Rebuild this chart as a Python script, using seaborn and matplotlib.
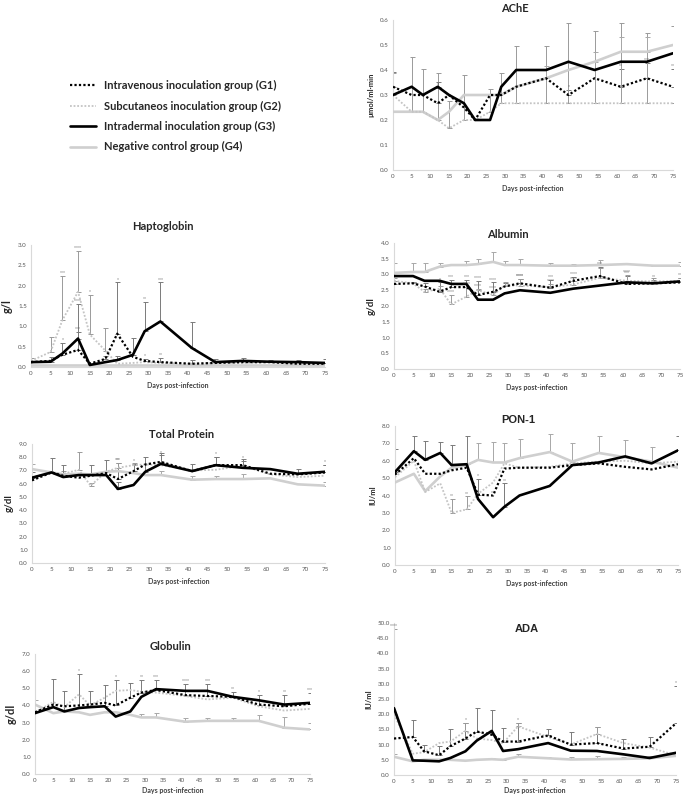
import numpy as np
import pandas as pd
import matplotlib
matplotlib.use("Agg")
import matplotlib.pyplot as plt
from matplotlib.lines import Line2D
import seaborn as sns

sns.set_style("white")
plt.rcParams["font.family"] = ["Lato", "DejaVu Sans"]

days = [0, 5, 8, 12, 15, 19, 22, 26, 29, 33, 41, 47, 54, 61, 68, 75]
groups = ["G1", "G2", "G3", "G4"]
group_labels = ["Intravenous inoculation group (G1)",
                "Subcutaneos inoculation group (G2)",
                "Intradermal inoculation group (G3)",
                "Negative control group (G4)"]

# ---- AChE (umol/ml-min)
ache_g1 = [0.333, 0.30, 0.30, 0.267, 0.30, 0.25, 0.20, 0.30, 0.30, 0.333, 0.367, 0.30, 0.367, 0.333, 0.367, 0.333]
ache_g2 = [0.30, 0.233, 0.233, 0.20, 0.167, 0.20, 0.20, 0.233, 0.267, 0.267, 0.267, 0.267, 0.267, 0.267, 0.267, 0.267]
ache_g3 = [0.30, 0.333, 0.30, 0.333, 0.30, 0.267, 0.20, 0.20, 0.333, 0.40, 0.40, 0.433, 0.40, 0.433, 0.433, 0.467]
ache_g4 = [0.233, 0.233, 0.233, 0.20, 0.233, 0.30, 0.30, 0.30, 0.30, 0.333, 0.367, 0.40, 0.433, 0.473, 0.473, 0.50]
ache_e1 = [0.06, 0, 0, 0.06, 0, 0, 0, 0, 0, 0, 0, 0.02, 0, 0.07, 0.06, 0.07]
ache_e2 = [0.09, 0.22, 0.17, 0.19, 0.11, 0.18, 0, 0.09, 0.12, 0.23, 0.23, 0.32, 0.29, 0.32, 0.28, 0.31]
ache_e3 = [0, 0, 0, 0.02, 0, 0, 0, 0, 0, 0, 0, 0, 0, 0, 0, 0]
ache_e4 = [0, 0, 0, 0, 0, 0, 0, 0, 0, 0, 0.05, 0, 0.04, 0.06, 0.06, 0]
ache_s1 = {3: "*", 11: "*", 13: "**", 14: "***", 15: "**"}

# ---- Haptoglobin (g/l)
hp_g1 = [0.12, 0.15, 0.30, 0.42, 0.08, 0.20, 0.82, 0.25, 0.15, 0.12, 0.08, 0.10, 0.12, 0.12, 0.08, 0.08]
hp_g2 = [0.15, 0.37, 1.15, 1.85, 0.80, 0.40, 0.08, 0.10, 0.12, 0.10, 0.08, 0.10, 0.10, 0.12, 0.10, 0.10]
hp_g3 = [0.12, 0.13, 0.33, 0.70, 0.05, 0.12, 0.17, 0.30, 0.88, 1.12, 0.47, 0.12, 0.15, 0.13, 0.12, 0.10]
hp_g4 = [0.05] * 16
hp_e1 = [0.10, 0, 0.30, 0.45, 0, 0.07, 1.26, 0, 0.05, 0.10, 0.10, 0, 0, 0, 0, 0]
hp_e2 = [0.08, 0.38, 1.10, 1.00, 0.98, 0.55, 0, 0, 0, 0, 0, 0, 0, 0, 0, 0]
hp_e3 = [0, 0.12, 0, 0.85, 0, 0, 0.10, 0.42, 0.72, 0.96, 0.63, 0.08, 0.07, 0.05, 0.06, 0.10]
hp_e4 = [0] * 16
hp_s1 = {2: "*", 3: "***", 6: "*", 8: "*", 9: "**"}
hp_s2 = {2: "***", 3: "****", 4: "*"}
hp_s3 = {3: "****", 8: "**", 9: "***"}

# ---- Albumin (g/dl)
alb_g1 = [2.70, 2.72, 2.62, 2.45, 2.60, 2.60, 2.35, 2.45, 2.62, 2.72, 2.58, 2.80, 2.95, 2.70, 2.72, 2.75]
alb_g2 = [2.80, 2.72, 2.45, 2.55, 2.05, 2.30, 2.50, 2.35, 2.65, 2.65, 2.60, 2.68, 2.90, 2.80, 2.78, 2.80]
alb_g3 = [2.95, 2.95, 2.80, 2.80, 2.70, 2.70, 2.20, 2.20, 2.40, 2.50, 2.42, 2.55, 2.65, 2.75, 2.72, 2.78]
alb_g4 = [3.05, 3.08, 3.08, 3.25, 3.30, 3.30, 3.33, 3.40, 3.30, 3.30, 3.28, 3.28, 3.30, 3.33, 3.28, 3.28]
alb_e1 = [0.10, 0.05, 0.10, 0.30, 0.22, 0.22, 0.45, 0.30, 0.10, 0.15, 0.25, 0.12, 0.30, 0.25, 0.10, 0.15]
alb_e2 = [0.10, 0.05, 0.10, 0.10, 0.30, 0.30, 0.05, 0.12, 0.10, 0.20, 0.10, 0.10, 0.30, 0.20, 0.10, 0.10]
alb_e3 = [0] * 16
alb_e4 = [0.33, 0.27, 0.27, 0.13, 0.03, 0.12, 0.17, 0.32, 0.12, 0.20, 0.10, 0.05, 0.15, 0.05, 0.02, 0.12]
alb_s1 = {3: "*", 4: "***", 5: "***", 6: "****", 7: "****", 9: "****", 10: "***",
          11: "****", 12: "***", 13: "***", 14: "**", 15: "**"}
alb_s2 = {4: "****", 5: "****", 6: "****", 7: "****", 9: "****", 10: "****", 11: "****", 13: "****"}

# ---- Total protein (g/dl)
tp_g1 = [6.25, 6.85, 6.60, 6.45, 6.60, 6.80, 6.35, 6.95, 7.45, 7.65, 6.95, 7.40, 7.40, 6.75, 6.70, 6.85]
tp_g2 = [6.50, 6.80, 6.75, 7.05, 5.85, 6.90, 7.20, 7.40, 7.45, 7.40, 7.00, 7.05, 7.35, 6.70, 6.50, 6.60]
tp_g3 = [6.45, 6.85, 6.50, 6.65, 6.65, 6.65, 5.60, 5.90, 6.90, 7.50, 6.95, 7.40, 7.20, 7.10, 6.75, 6.90]
tp_g4 = [7.10, 6.85, 6.70, 6.75, 6.70, 6.90, 6.95, 6.80, 6.65, 6.65, 6.30, 6.35, 6.35, 6.40, 5.95, 5.85]
tp_e1 = [0, 0, 0, 0, 0, 0, 1.20, 0.55, 0, 0.50, 0, 0.60, 0.35, 0, 0, 0.55]
tp_e2 = [0, 0, 0.20, 1.35, 0.20, 0, 0.40, 0.20, 0, 0, 0, 0, 0, 0, 0, 0]
tp_e3 = [0.45, 1.10, 0.90, 0, 0.75, 1.15, 0.50, 0, 1.15, 0.80, 0.55, 0.60, 0.65, 0, 0.35, 0.50]
tp_e4 = [0.35, 0, 0, 0, 0, 0, 0, 0, 0, 0.30, 0.25, 0.25, 0.35, 0, 0, 0.30]
tp_s1 = {6: "***", 7: "*", 9: "*", 11: "*", 12: "*", 15: "*"}
tp_s2 = {6: "**"}

# ---- PON-1 (IU/ml)
pon_g1 = [5.20, 6.15, 5.25, 5.25, 5.45, 5.60, 4.05, 4.00, 5.55, 5.60, 5.60, 5.75, 5.85, 5.65, 5.50, 5.80]
pon_g2 = [5.05, 6.00, 4.20, 4.70, 3.00, 3.20, 4.10, 4.75, 5.85, 5.60, 5.65, 5.85, 5.95, 6.00, 5.85, 5.95]
pon_g3 = [5.35, 6.55, 6.05, 6.45, 5.75, 5.80, 3.80, 2.75, 3.35, 4.00, 4.55, 5.75, 5.90, 6.25, 5.85, 6.60]
pon_g4 = [4.75, 5.25, 4.25, 5.10, 5.60, 5.75, 6.05, 5.90, 5.90, 6.15, 6.50, 5.95, 6.45, 6.20, 5.95, 5.60]
pon_e1 = [0, 0, 0, 0, 0, 0, 0.90, 0, 0, 0, 0, 0, 0, 0, 0, 0]
pon_e2 = [0, 0, 0, 0, 0.80, 0.75, 0, 0, 0, 0, 0, 0, 0, 0, 0, 0]
pon_e3 = [1.35, 0.90, 1.10, 0.65, 1.15, 1.60, 0, 0, 1.35, 0, 0, 0, 0, 0, 0, 0.80]
pon_e4 = [0, 0, 0, 0, 0, 0, 0.95, 1.20, 1.10, 1.10, 1.05, 1.10, 1.00, 1.00, 0.85, 0]
pon_s1 = {6: "*", 7: "**"}
pon_s2 = {4: "**", 5: "**"}
pon_s3 = {8: "**"}

# ---- Globulin (g/dl)
glo_g1 = [3.60, 4.05, 3.95, 4.00, 4.05, 4.15, 4.00, 4.45, 4.75, 4.90, 4.60, 4.55, 4.50, 4.05, 3.95, 4.10]
glo_g2 = [3.60, 4.20, 3.90, 4.65, 4.00, 4.45, 4.85, 4.90, 4.80, 4.75, 4.55, 4.35, 4.45, 3.95, 3.70, 3.80]
glo_g3 = [3.55, 3.90, 3.65, 3.85, 3.90, 3.95, 3.35, 3.65, 4.50, 4.95, 4.85, 4.85, 4.50, 4.30, 4.05, 4.15]
glo_g4 = [4.05, 3.55, 3.65, 3.60, 3.45, 3.60, 3.60, 3.45, 3.30, 3.30, 3.05, 3.10, 3.10, 3.10, 2.70, 2.60]
glo_e1 = [0, 0, 0, 0, 0, 0, 1.50, 0.85, 0.75, 0.60, 0.65, 0.70, 0.30, 0.55, 0.65, 0.65]
glo_e2 = [0] * 16
glo_e3 = [0, 1.65, 1.20, 2.00, 0.95, 1.25, 0, 0, 0, 0, 0, 0, 0, 0, 0, 0]
glo_e4 = [0.25, 0, 0, 0, 0, 0, 0, 0, 0.20, 0.25, 0.20, 0.15, 0.15, 0.35, 0.60, 0.40]
glo_s1 = {6: "*", 8: "**", 9: "***", 10: "****", 11: "***", 12: "**", 13: "*", 14: "**", 15: "***"}
glo_s3 = {3: "*"}

# ---- ADA (IU/ml)
ada_g1 = [12.0, 12.5, 7.8, 6.5, 9.5, 12.0, 14.3, 13.3, 11.0, 11.0, 13.0, 10.0, 10.5, 8.7, 9.3, 17.0]
ada_g2 = [20.0, 7.0, 7.5, 10.5, 11.0, 14.5, 12.0, 11.5, 10.5, 16.0, 12.5, 10.0, 13.5, 10.5, 9.0, 6.5]
ada_g3 = [22.0, 4.8, 4.7, 4.5, 5.6, 7.8, 11.3, 14.5, 7.9, 8.5, 10.5, 8.0, 7.9, 6.8, 5.6, 7.3]
ada_g4 = [6.0, 4.5, 5.0, 5.0, 5.0, 4.7, 5.0, 5.2, 5.0, 6.0, 5.5, 5.1, 5.2, 5.3, 5.5, 6.3]
ada_e1 = [0, 5.5, 2.2, 3.0, 5.5, 5.0, 7.7, 8.0, 4.5, 6.0, 2.0, 4.2, 5.3, 3.1, 3.2, 12.3]
ada_e2 = [28.0, 0, 0, 0, 0, 2.5, 0, 0, 0, 1.0, 0, 0, 2.3, 0, 0, 0]
ada_e3 = [0] * 16
ada_e4 = [0.8, 0, 0, 0, 0, 0, 0, 0.5, 0.4, 0.8, 0.4, 0.8, 1.2, 0.5, 0.8, 0]
ada_s1 = {15: "*"}
ada_s2 = {0: "****", 5: "*", 9: "*"}

colors = {"G1": "#000000", "G2": "#c4c4c4", "G3": "#000000", "G4": "#cfcfcf"}
widths = {"G1": 1.6, "G2": 1.3, "G3": 1.9, "G4": 1.9}
styles = {"G1": (0, (1, 1)), "G2": (0, (1, 1)), "G3": "-", "G4": "-"}
ecolors = {"G1": "#7a7a7a", "G2": "#9a9a9a", "G3": "#7a7a7a", "G4": "#a8a8a8"}

W, H = 685, 799


def rect(l, t, r, b):
    return [l / W, 1 - b / H, (r - l) / W, (b - t) / H]


def panel(fig, box, vals, errs, stars, ymax, ystep, ylabel, title, title_xy,
          ylabel_size=6.5, title_font=None, fmt="{:.1f}", xpad=4):
    ax = fig.add_axes(rect(*box))
    df = pd.DataFrame({"day": days * 4,
                       "value": sum(vals, []),
                       "group": np.repeat(groups, len(days))})
    for g, v, e in zip(groups, vals, errs):
        e = np.array(e)
        keep = e > 0
        if keep.any():
            ax.errorbar(np.array(days)[keep], np.array(v)[keep],
                        yerr=[np.zeros(keep.sum()), e[keep]], fmt="none",
                        ecolor=ecolors[g], elinewidth=0.7, capsize=1.8,
                        capthick=0.7, zorder=1)
    for g in ["G4", "G2", "G1", "G3"]:
        sub = df[df["group"] == g]
        sns.lineplot(data=sub, x="day", y="value", ax=ax, color=colors[g],
                     linewidth=widths[g], linestyle=styles[g], zorder=3)
    for g, v, e, s in zip(groups, vals, errs, stars):
        for i, txt in s.items():
            ax.text(days[i], v[i] + e[i] + ymax * 0.005, txt, ha="center",
                    va="bottom", fontsize=3.4, color="#555555", zorder=4)
    ax.set_xlim(0, 75)
    ax.set_ylim(0, ymax)
    ax.set_xticks(range(0, 76, 5))
    yt = np.arange(0, ymax + ystep / 2, ystep)
    ax.set_yticks(yt)
    ax.set_yticklabels([fmt.format(t) for t in yt])
    ax.tick_params(length=0, labelsize=4.5, labelcolor="#595959", pad=3)
    for sp in ["top", "right"]:
        ax.spines[sp].set_visible(False)
    for sp in ["left", "bottom"]:
        ax.spines[sp].set_color("#d9d9d9")
        ax.spines[sp].set_linewidth(0.8)
    ax.set_xlabel("Days post-infection", fontsize=5, fontweight="bold",
                  color="#404040", labelpad=xpad)
    ax.set_ylabel(ylabel, fontsize=ylabel_size, fontweight="bold", labelpad=4)
    kw = {} if title_font is None else {"family": title_font}
    fig.text(title_xy[0] / W, 1 - title_xy[1] / H, title, ha="center",
             va="center", fontsize=8, fontweight="bold", **kw)
    return ax


fig = plt.figure(figsize=(W / 100, H / 100), dpi=100)

panel(fig, (393, 20, 673, 170),
      [ache_g1, ache_g2, ache_g3, ache_g4], [ache_e1, ache_e2, ache_e3, ache_e4],
      [ache_s1, {}, {}, {}], 0.6, 0.1, "\u00b5mol/ml\u00b7min", "AChE", (515, 9),
      ylabel_size=5.5)
panel(fig, (31, 245, 325, 367),
      [hp_g1, hp_g2, hp_g3, hp_g4], [hp_e1, hp_e2, hp_e3, hp_e4],
      [hp_s1, hp_s2, hp_s3, {}], 3.0, 0.5, "g/l", "Haptoglobin", (163, 226),
      ylabel_size=8)
panel(fig, (394, 243, 680, 369),
      [alb_g1, alb_g2, alb_g3, alb_g4], [alb_e1, alb_e2, alb_e3, alb_e4],
      [alb_s1, alb_s2, {}, {}], 4.0, 0.5, "g/dl", "Albumin", (508, 234),
      ylabel_size=7)
panel(fig, (32, 444, 325, 563),
      [tp_g1, tp_g2, tp_g3, tp_g4], [tp_e1, tp_e2, tp_e3, tp_e4],
      [tp_s1, tp_s2, {}, {}], 9.0, 1.0, "g/dl", "Total Protein", (182, 434),
      ylabel_size=7)
panel(fig, (395, 426, 678, 565),
      [pon_g1, pon_g2, pon_g3, pon_g4], [pon_e1, pon_e2, pon_e3, pon_e4],
      [pon_s1, pon_s2, pon_s3, {}], 8.0, 1.0, "IU/ml", "PON-1", (518, 420),
      ylabel_size=5.5, title_font="Liberation Sans")
panel(fig, (35, 654, 310, 774),
      [glo_g1, glo_g2, glo_g3, glo_g4], [glo_e1, glo_e2, glo_e3, glo_e4],
      [glo_s1, {}, glo_s3, {}], 7.0, 1.0, "g/dl", "Globulin", (171, 646),
      ylabel_size=8, xpad=3)
panel(fig, (394, 623, 676, 775),
      [ada_g1, ada_g2, ada_g3, ada_g4], [ada_e1, ada_e2, ada_e3, ada_e4],
      [ada_s1, ada_s2, {}, {}], 50.0, 5.0, "IU/ml", "ADA", (527, 629),
      ylabel_size=5.5, title_font="Liberation Sans", xpad=2)

handles = [Line2D([], [], color=colors[g], linewidth=widths[g], linestyle=styles[g])
           for g in groups]
fig.legend(handles, group_labels, loc="upper left", bbox_to_anchor=(60 / W, 1 - 70 / H),
           frameon=False, handlelength=2.3, handletextpad=0.8, labelspacing=0.85,
           prop={"size": 8, "weight": "bold"})

fig.savefig("out.png", dpi=100, facecolor="white")
